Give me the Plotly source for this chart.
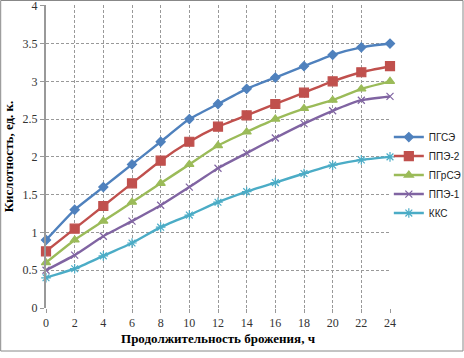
import plotly.graph_objects as go

hours = [0, 2, 4, 6, 8, 10, 12, 14, 16, 18, 20, 22, 24]
pgse = [0.9, 1.3, 1.6, 1.9, 2.2, 2.5, 2.7, 2.9, 3.05, 3.2, 3.35, 3.45, 3.5]
ppe2 = [0.75, 1.05, 1.35, 1.65, 1.95, 2.2, 2.4, 2.55, 2.7, 2.85, 3.0, 3.12, 3.2]
pgrse = [0.6, 0.9, 1.15, 1.4, 1.65, 1.9, 2.15, 2.33, 2.5, 2.64, 2.75, 2.9, 3.0]
ppe1 = [0.5, 0.7, 0.95, 1.15, 1.36, 1.6, 1.85, 2.05, 2.25, 2.44, 2.61, 2.75, 2.8]
kks = [0.4, 0.52, 0.69, 0.86, 1.07, 1.23, 1.4, 1.54, 1.66, 1.78, 1.89, 1.96, 2.0]
y_ticks = [0, 0.5, 1, 1.5, 2, 2.5, 3, 3.5, 4]
y_labels = ["0", "0.5", "1", "1.5", "2", "2.5", "3", "3.5", "4"]

names = ["ПГСЭ", "ППЭ-2", "ПГрСЭ", "ППЭ-1", "ККС"]
series = [pgse, ppe2, pgrse, ppe1, kks]
colors = ["#4F81BD", "#C0504D", "#9BBB59", "#8064A2", "#4BACC6"]
symbols = ["diamond", "square", "triangle-up", "x-thin-open", "asterisk-open"]
sizes = [7, 9, 8, 7, 8]

fig = go.Figure()
for n, s, c, sym, sz in zip(names, series, colors, symbols, sizes):
    fig.add_trace(go.Scatter(
        x=hours, y=s, name=n, mode="lines+markers",
        line=dict(color=c, width=2.4, shape="spline", smoothing=0.5),
        marker=dict(symbol=sym, size=sz, color=c, line=dict(color=c, width=1.2)),
        cliponaxis=False,
    ))

fig.update_layout(
    width=464, height=358,
    margin=dict(l=46, r=74, t=5, b=50, autoexpand=False),
    paper_bgcolor="white", plot_bgcolor="white",
    showlegend=True,
    legend=dict(xref="container", yref="container", x=0.838, y=0.511,
                xanchor="left", yanchor="middle",
                font=dict(family="Liberation Sans", size=10, color="#222"),
                itemwidth=30, tracegroupgap=0, bgcolor="rgba(0,0,0,0)"),
    xaxis=dict(range=[0, 24], tickvals=hours, ticktext=[str(h) for h in hours],
               showgrid=True, gridcolor="#999", griddash="3px,2px", gridwidth=1,
               zeroline=False, showline=False, ticks="outside", ticklen=4,
               tickcolor="#999",
               tickfont=dict(family="Liberation Serif", size=12, color="#333"),
               title=dict(text="<b>Продолжительность брожения, ч</b>",
                          font=dict(family="Liberation Serif", size=13, color="#000"),
                          standoff=4)),
    yaxis=dict(range=[0, 4.01], tickvals=y_ticks, ticktext=y_labels,
               ticklabeloverflow="allow",
               showgrid=True, gridcolor="#999", griddash="3px,2px", gridwidth=1,
               zeroline=False, showline=True, linecolor="#999", linewidth=2,
               ticks="outside", ticklen=4, tickcolor="#999",
               tickfont=dict(family="Liberation Serif", size=12, color="#333"),
               title=dict(text="<b>Кислотность, ед. к.</b>",
                          font=dict(family="Liberation Serif", size=13, color="#000"),
                          standoff=6)),
)

fig.add_shape(type="rect", xref="paper", yref="paper",
              x0=-46/344 + 0.002, x1=(463 - 46) / 344, y0=(308 - 351) / 303, y1=(308 - 0.5) / 303,
              line=dict(color="#888", width=1), fillcolor="rgba(0,0,0,0)", layer="below")

fig.write_html("out.html")
